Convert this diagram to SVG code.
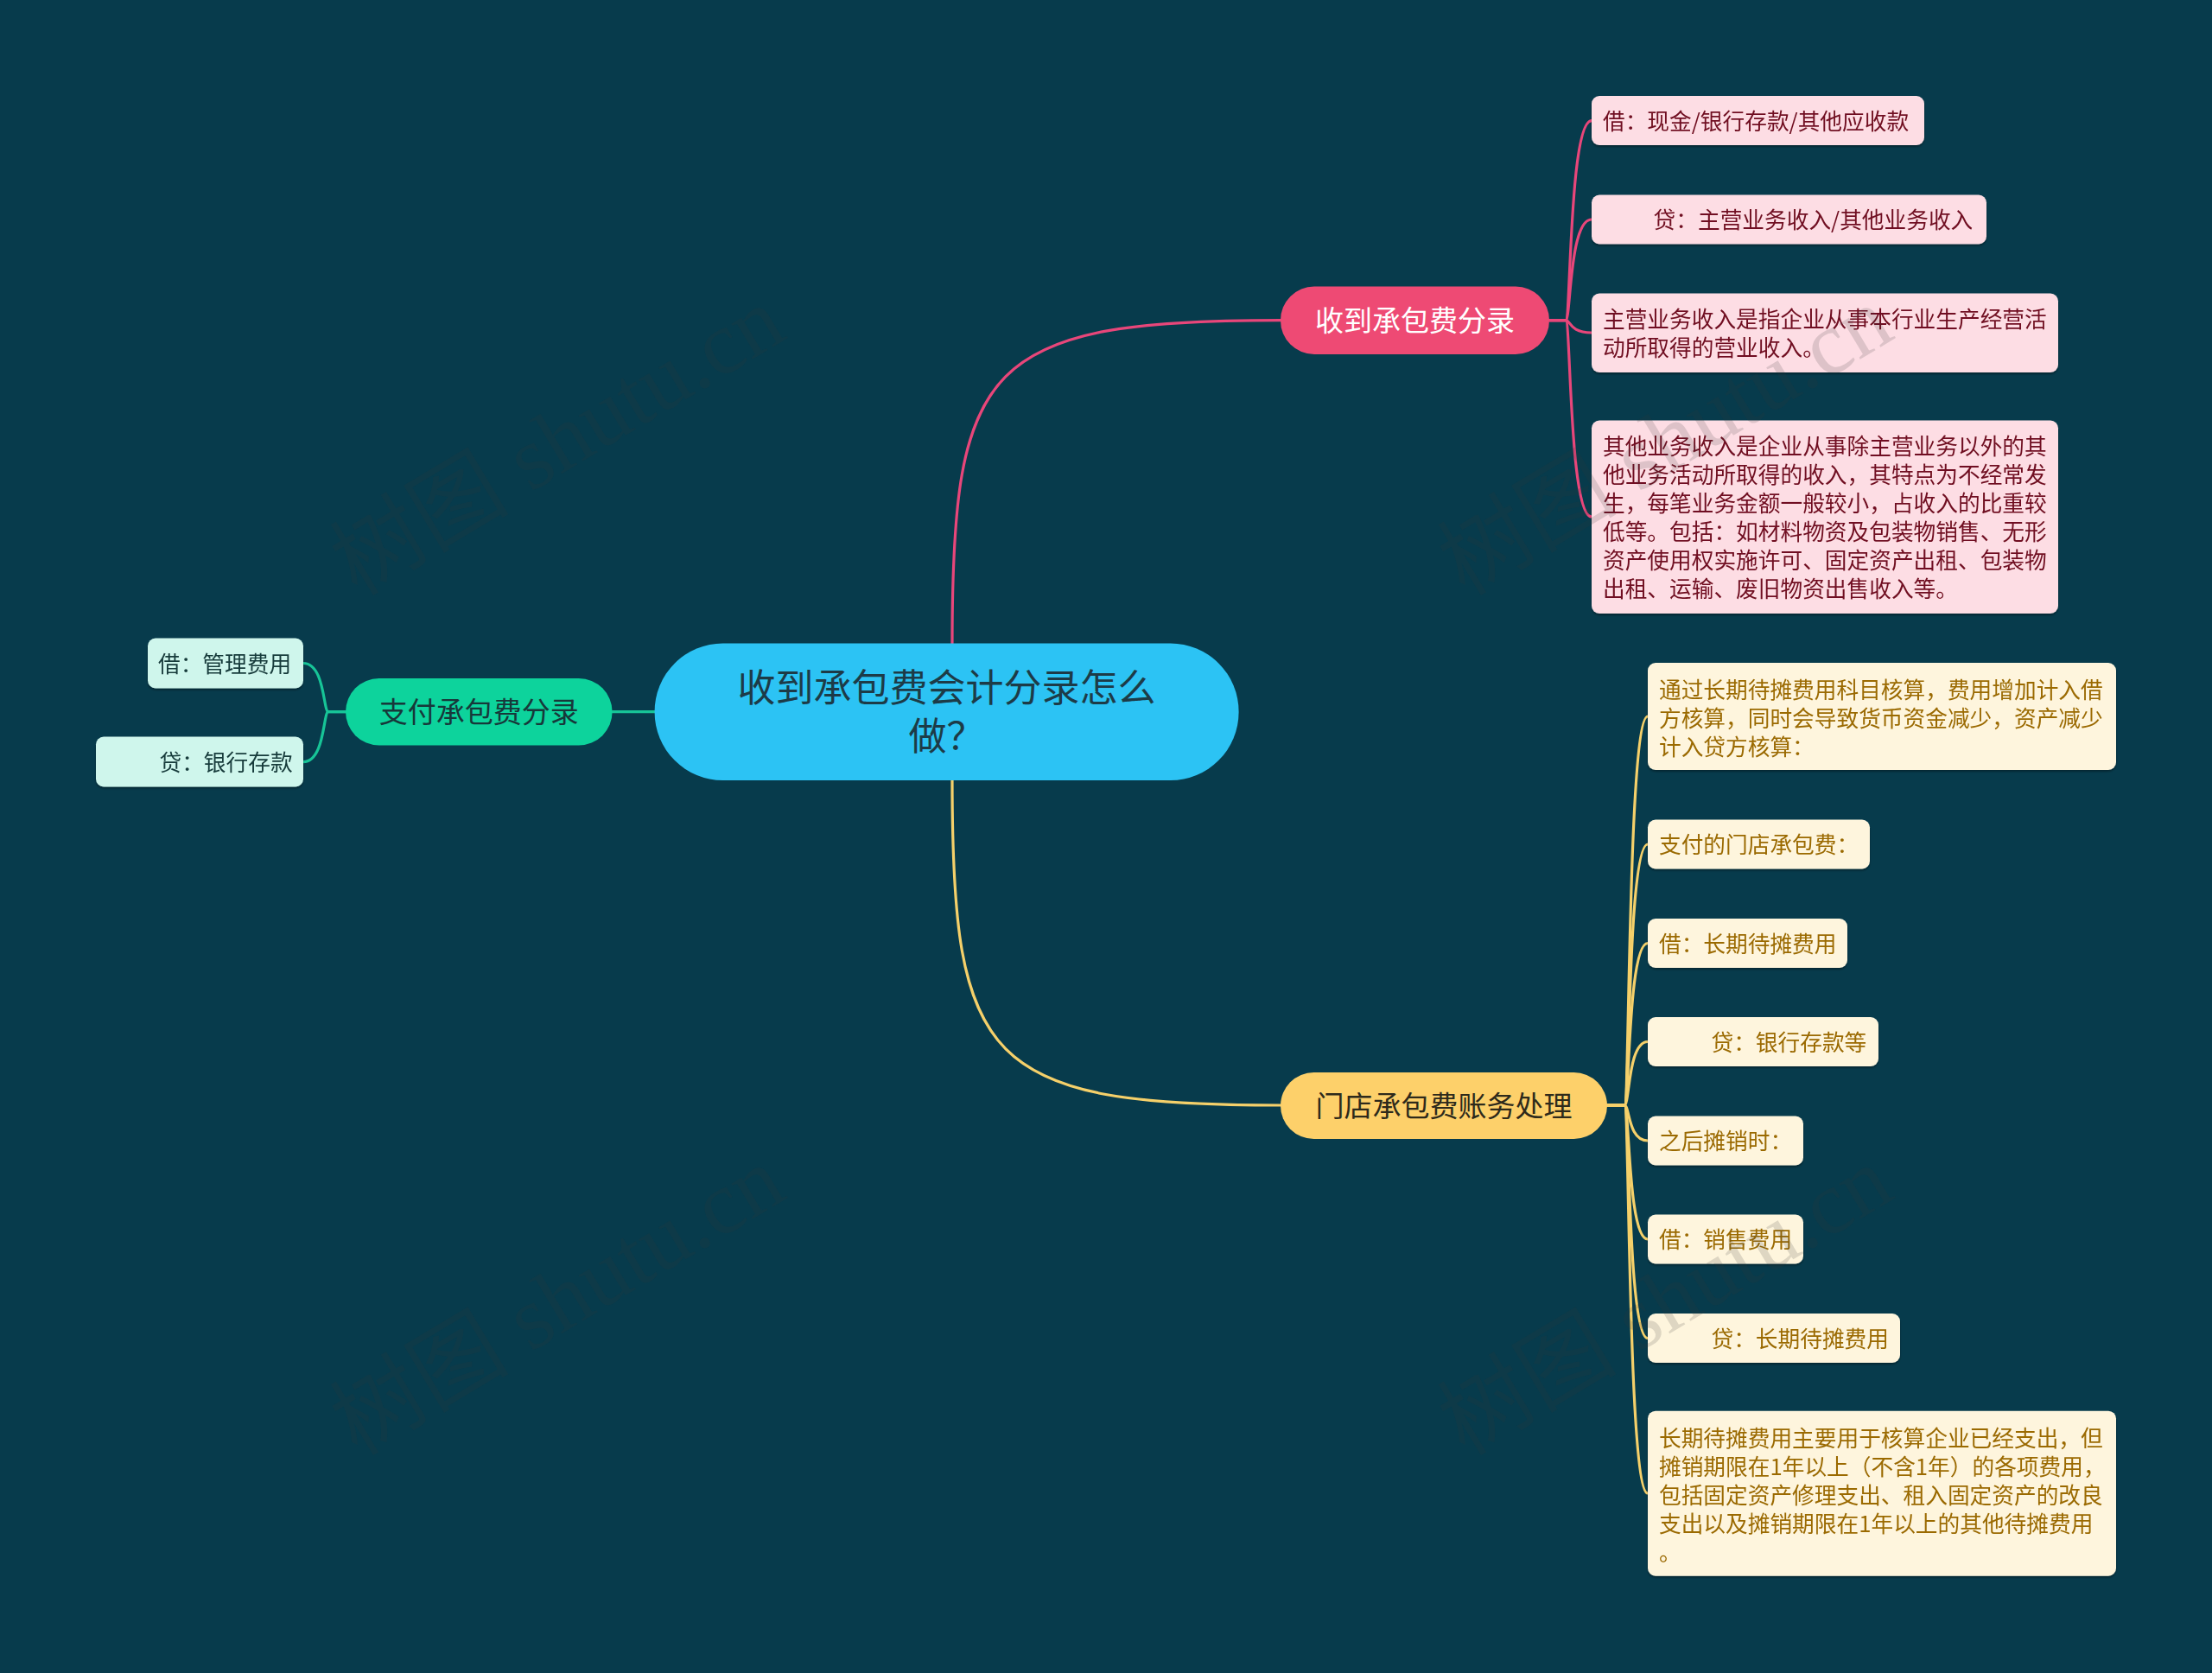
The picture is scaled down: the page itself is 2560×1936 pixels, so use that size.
<svg xmlns="http://www.w3.org/2000/svg" width="2560" height="1936" viewBox="0 0 2560 1936">
<defs>
<filter id="sh" x="-5%" y="-10%" width="110%" height="130%">
<feDropShadow dx="0" dy="2" stdDeviation="1.2" flood-color="#000" flood-opacity="0.35"/>
</filter>
<style>
text{font-family:"Noto Sans CJK SC","Noto Sans",sans-serif;}
.wm{font-family:"Liberation Serif","Noto Sans CJK SC",serif;font-size:104px;fill:#3a3a3a;fill-opacity:0.16;}
.c{fill:none;stroke-width:3.2;stroke-linecap:round;}
.cp{stroke:#E8467A;}
.cg{stroke:#17C497;}
.cy{stroke:#F5D06A;}
.main{font-size:33px;}
.leaf{font-size:25.7px;}
.pl rect{fill:#FDDDE4;}
.pl text{fill:#701020;}
.gl rect{fill:#CFF6EC;}
.gl text{fill:#173A3A;}
.yl rect{fill:#FEF5DD;}
.yl text{fill:#9B6A04;}
</style>
</defs>
<rect x="0" y="0" width="2560" height="1936" fill="#073B4C"/>

<g id="connectors">
<path class="c cp" d="M1102,744.5 C1102,420 1140,370.6 1482,370.6"/>
<path class="c cy" d="M1102,903 C1102,1230 1140,1279 1482,1279"/>
<path class="c cg" d="M757.6,823.7 H708.6"/>
<path class="c cp" d="M1793,370.6 H1812 C1818,370.6 1816,139.6 1842,139.6"/>
<path class="c cp" d="M1793,370.6 H1812 C1818,370.6 1816,254 1842,254"/>
<path class="c cp" d="M1793,370.6 H1812 C1818,370.6 1816,385 1842,385"/>
<path class="c cp" d="M1793,370.6 H1812 C1818,370.6 1816,598 1842,598"/>
<path class="c cg" d="M400,823.7 H380 C374,823.7 376,767.5 351,767.5"/>
<path class="c cg" d="M400,823.7 H380 C374,823.7 376,881.6 351,881.6"/>
<path class="c cy" d="M1860,1279 H1880 C1886,1279 1884,829 1907,829"/>
<path class="c cy" d="M1860,1279 H1880 C1886,1279 1884,977 1907,977"/>
<path class="c cy" d="M1860,1279 H1880 C1886,1279 1884,1091.5 1907,1091.5"/>
<path class="c cy" d="M1860,1279 H1880 C1886,1279 1884,1205.5 1907,1205.5"/>
<path class="c cy" d="M1860,1279 H1880 C1886,1279 1884,1320 1907,1320"/>
<path class="c cy" d="M1860,1279 H1880 C1886,1279 1884,1434 1907,1434"/>
<path class="c cy" d="M1860,1279 H1880 C1886,1279 1884,1548.6 1907,1548.6"/>
<path class="c cy" d="M1860,1279 H1880 C1886,1279 1884,1728 1907,1728"/>
</g>

<g id="root">
<rect x="757.6" y="744.5" width="676" height="158.5" rx="79" fill="#2CC3F4"/>
<text font-size="44" fill="#1D3B47" text-anchor="middle"><tspan x="1095.6" y="812">收到承包费会计分录怎么</tspan><tspan x="1095.6" y="868">做？</tspan></text>
</g>

<g id="n-receive">
<rect x="1482" y="331.5" width="311" height="78.5" rx="39" fill="#EE4A74"/>
<text class="main" x="1637.5" y="383" fill="#FFFFFF" text-anchor="middle">收到承包费分录</text>
</g>
<g id="n-pay">
<rect x="400" y="785" width="308.6" height="77.5" rx="38.7" fill="#0DD39C"/>
<text class="main" x="554.3" y="836" fill="#17383A" text-anchor="middle">支付承包费分录</text>
</g>
<g id="n-store">
<rect x="1482" y="1241" width="378" height="77" rx="38.5" fill="#FDD06A"/>
<text class="main" x="1671" y="1291.5" fill="#2E2A1B" text-anchor="middle">门店承包费账务处理</text>
</g>

<g id="p1" class="pl" filter="url(#sh)">
<rect x="1842" y="111" width="385" height="57" rx="9"/>
<text class="leaf" x="1855" y="149.5">借：现金/银行存款/其他应收款</text>
</g>
<g id="p2" class="pl" filter="url(#sh)">
<rect x="1842" y="225.5" width="457" height="57" rx="9"/>
<text class="leaf" x="1913.6" y="264">贷：主营业务收入/其他业务收入</text>
</g>
<g id="p3" class="pl" filter="url(#sh)">
<rect x="1842" y="339.6" width="540" height="91.4" rx="9"/>
<text class="leaf" x="1855" y="379">主营业务收入是指企业从事本行业生产经营活</text>
<text class="leaf" x="1855" y="412">动所取得的营业收入。</text>
</g>
<g id="p4" class="pl" filter="url(#sh)">
<rect x="1842" y="486.5" width="540" height="223.5" rx="9"/>
<text class="leaf" x="1855" y="526">其他业务收入是企业从事除主营业务以外的其</text>
<text class="leaf" x="1855" y="559">他业务活动所取得的收入，其特点为不经常发</text>
<text class="leaf" x="1855" y="592">生，每笔业务金额一般较小，占收入的比重较</text>
<text class="leaf" x="1855" y="625">低等。包括：如材料物资及包装物销售、无形</text>
<text class="leaf" x="1855" y="658">资产使用权实施许可、固定资产出租、包装物</text>
<text class="leaf" x="1855" y="691">出租、运输、废旧物资出售收入等。</text>
</g>

<g id="g1" class="gl" filter="url(#sh)">
<rect x="171" y="738.5" width="180" height="58" rx="9"/>
<text class="leaf" x="183" y="777.5">借：管理费用</text>
</g>
<g id="g2" class="gl" filter="url(#sh)">
<rect x="111" y="852.5" width="240" height="58" rx="9"/>
<text class="leaf" x="184.5" y="891.5">贷：银行存款</text>
</g>

<g id="y1" class="yl" filter="url(#sh)">
<rect x="1907" y="767" width="542" height="124" rx="9"/>
<text class="leaf" x="1920" y="808">通过长期待摊费用科目核算，费用增加计入借</text>
<text class="leaf" x="1920" y="841">方核算，同时会导致货币资金减少，资产减少</text>
<text class="leaf" x="1920" y="874">计入贷方核算：</text>
</g>
<g id="y2" class="yl" filter="url(#sh)">
<rect x="1907" y="948.5" width="257" height="57" rx="9"/>
<text class="leaf" x="1920" y="987">支付的门店承包费：</text>
</g>
<g id="y3" class="yl" filter="url(#sh)">
<rect x="1907" y="1063" width="231" height="57" rx="9"/>
<text class="leaf" x="1920" y="1101.5">借：长期待摊费用</text>
</g>
<g id="y4" class="yl" filter="url(#sh)">
<rect x="1907" y="1177" width="267" height="57" rx="9"/>
<text class="leaf" x="1980.5" y="1215.5">贷：银行存款等</text>
</g>
<g id="y5" class="yl" filter="url(#sh)">
<rect x="1907" y="1291.5" width="180" height="57" rx="9"/>
<text class="leaf" x="1920" y="1330">之后摊销时：</text>
</g>
<g id="y6" class="yl" filter="url(#sh)">
<rect x="1907" y="1405.5" width="180" height="57" rx="9"/>
<text class="leaf" x="1920" y="1444">借：销售费用</text>
</g>
<g id="y7" class="yl" filter="url(#sh)">
<rect x="1907" y="1520" width="292" height="57" rx="9"/>
<text class="leaf" x="1980.5" y="1558.5">贷：长期待摊费用</text>
</g>
<g id="y8" class="yl" filter="url(#sh)">
<rect x="1907" y="1632.7" width="542" height="191" rx="9"/>
<text class="leaf" x="1920" y="1674">长期待摊费用主要用于核算企业已经支出，但</text>
<text class="leaf" x="1920" y="1707">摊销期限在1年以上（不含1年）的各项费用，</text>
<text class="leaf" x="1920" y="1740">包括固定资产修理支出、租入固定资产的改良</text>
<text class="leaf" x="1920" y="1773">支出以及摊销期限在1年以上的其他待摊费用</text>
<text class="leaf" x="1920" y="1806">。</text>
</g>

<g id="watermarks">
<text class="wm" x="645" y="510" text-anchor="middle" dominant-baseline="central" transform="rotate(-31 645 510)">树图 shutu.cn</text>
<text class="wm" x="1927" y="510" text-anchor="middle" dominant-baseline="central" transform="rotate(-31 1927 510)">树图 shutu.cn</text>
<text class="wm" x="645" y="1505" text-anchor="middle" dominant-baseline="central" transform="rotate(-31 645 1505)">树图 shutu.cn</text>
<text class="wm" x="1927" y="1505" text-anchor="middle" dominant-baseline="central" transform="rotate(-31 1927 1505)">树图 shutu.cn</text>
</g>
</svg>
